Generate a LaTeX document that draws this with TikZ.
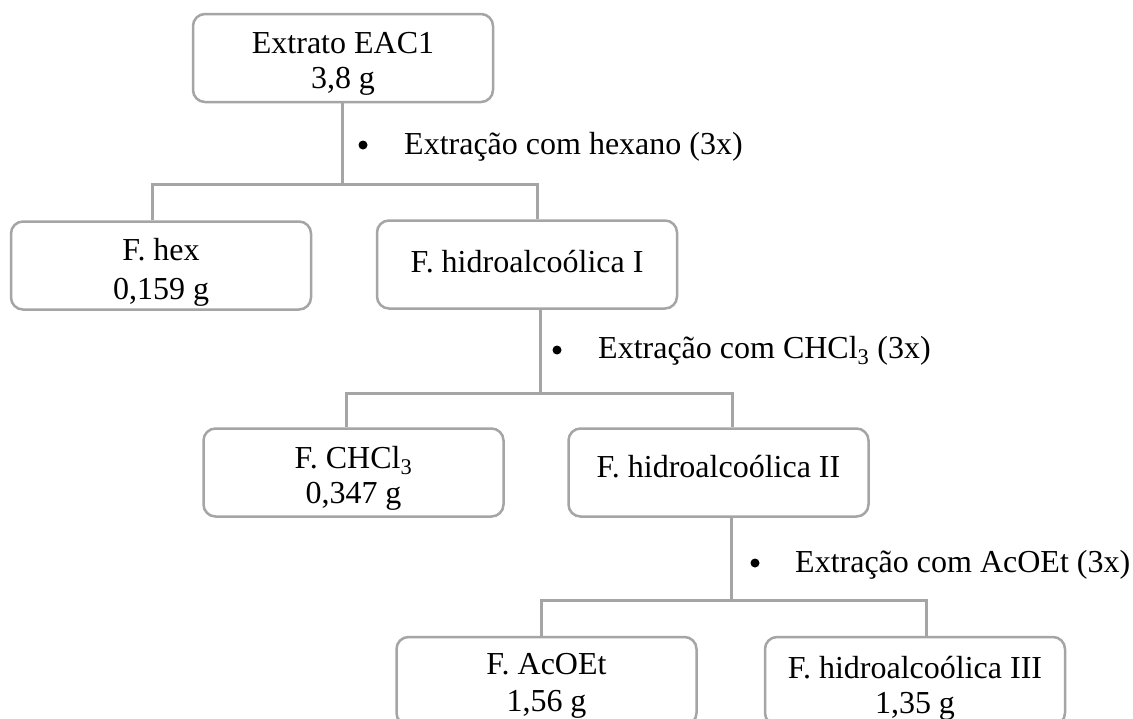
\documentclass[tikz,border=0pt]{standalone}
\usepackage{fontspec}
\setmainfont{Liberation Serif}
\definecolor{linegray}{RGB}{165,165,165}
\begin{document}
\begin{tikzpicture}[x=1pt,y=-1pt,
  box/.style={draw=linegray, line width=2.5pt, rounded corners=12pt, minimum width=300pt, minimum height=88pt, inner sep=0pt},
  txt/.style={font=\fontsize{32}{35}\selectfont, align=center, inner sep=0pt},
  conn/.style={draw=linegray, line width=3pt},
  bulletdot/.style={circle, fill=black, inner sep=0pt, minimum size=9pt},
  stepnote/.style={font=\fontsize{32}{35}\selectfont, anchor=base west, inner sep=0pt}]
\path[use as bounding box, clip] (0,0) rectangle (1133,718);

% boxes
\node[box] (eac) at (343,58) {};
\node[box] (hex) at (161,265.5) {};
\node[box] (h1) at (527,264.5) {};
\node[box] (chcl) at (353.5,472.5) {};
\node[box] (h2) at (718.5,472.5) {};
\node[box] (acoet) at (546.5,681) {};
\node[box] (h3) at (915,681) {};

% box texts
\node[txt, yshift=-5.5pt] (eact) at (eac) {Extrato EAC1\\3,8 g};
\node[txt, yshift=-7pt] (hext) at (hex) {F. hex\\[4pt]0,159 g};
\node[txt, yshift=2.5pt] (h1t) at (h1) {F. hidroalcoólica I};
\node[txt, yshift=-6pt] (chclt) at (chcl) {F. CHCl\textsubscript{3}\\0,347 g};
\node[txt, yshift=5.5pt] (h2t) at (h2) {F. hidroalcoólica II};
\node[txt, yshift=-4.5pt] (acoett) at (acoet) {F. AcOEt\\[2pt]1,56 g};
\node[txt, yshift=-7pt] (h3t) at (h3) {F. hidroalcoólica III\\1,35 g};

% junctions
\coordinate (j1) at (342,184);
\coordinate (j1l) at (152,184);
\coordinate (j1r) at (537,184);
\coordinate (j2) at (540,393);
\coordinate (j2l) at (346,393);
\coordinate (j2r) at (732,393);
\coordinate (j3) at (731,600);
\coordinate (j3l) at (541,600);
\coordinate (j3r) at (926,600);

% connectors
\draw[conn] (eac.south -| j1) -- (j1);
\draw[conn] (hex.north -| j1l) -- (j1l) -- (j1r) -- (h1.north -| j1r);
\draw[conn] (h1.south -| j2) -- (j2);
\draw[conn] (chcl.north -| j2l) -- (j2l) -- (j2r) -- (h2.north -| j2r);
\draw[conn] (h2.south -| j3) -- (j3);
\draw[conn] (acoet.north -| j3l) -- (j3l) -- (j3r) -- (h3.north -| j3r);

% step notes
\node[bulletdot] (d1) at (363,145) {};
\node[stepnote] (n1) at (404,154) {Extração com hexano (3x)};
\node[bulletdot] (d2) at (557,350) {};
\node[stepnote] (n2) at (598,358) {Extração com CHCl\textsubscript{3} (3x)};
\node[bulletdot] (d3) at (755,563) {};
\node[stepnote] (n3) at (795,572) {Extração com AcOEt (3x)};
\end{tikzpicture}
\end{document}
